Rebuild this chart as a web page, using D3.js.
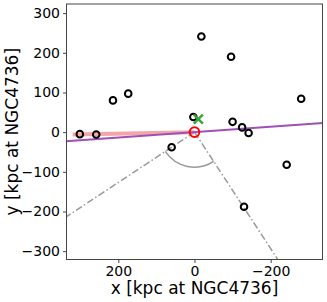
<!DOCTYPE html>
<html>
<head>
<meta charset="utf-8">
<script src="https://cdn.jsdelivr.net/npm/d3@7"></script>
<style>
  body { margin: 0; background: #fff; }
  svg { display: block; font-family: "DejaVu Sans", sans-serif; }
</style>
</head>
<body>
<svg id="chart" width="327" height="302"></svg>
<script>
// satellite positions [kpc]
const satX = [301, 258, 214, 174, 60, 3, -18, -96, -100, -125, -142, -130, -242, -280];
const satY = [-5, -6, 80, 97, -38, 38, 241, 190, 26, 12, -2, -188, -82, 84];
const hostX = 0, hostY = 0;
const crossX = -10, crossY = 33;
// major axis (purple), short pink segment, cone edges
const axisLine = [[340, -23], [-340, 23]];
const pinkLine = [[320, -6], [0, 0]];
const coneEdges = [[336, -213], [-218, -320]];
const xTicks = [200, 0, -200];
const yTicks = [300, 200, 100, 0, -100, -200, -300];

const svg = d3.select('#chart');
const pLeft = 66.5, pRight = 322.5, pTop = 4, pBottom = 259.5;

const x = d3.scaleLinear().domain([336, -336]).range([pLeft, pRight]);
const y = d3.scaleLinear().domain([-321, 323]).range([pBottom, pTop]);

svg.append('defs').append('clipPath').attr('id', 'clip')
    .append('rect').attr('x', pLeft).attr('y', pTop)
    .attr('width', pRight - pLeft).attr('height', pBottom - pTop);

const plot = svg.append('g').attr('clip-path', 'url(#clip)');

// cone edges (dash-dot)
coneEdges.forEach(e => {
    plot.append('line')
        .attr('x1', x(0)).attr('y1', y(0))
        .attr('x2', x(e[0] * 1.5)).attr('y2', y(e[1] * 1.5))
        .attr('stroke', '#999').attr('stroke-width', 1.5)
        .attr('stroke-dasharray', '7,2.5,1.5,2.5');
});

// opening angle arc
let angs = coneEdges.map(e => Math.atan2(y(e[1]) - y(0), x(e[0]) - x(0)) + Math.PI / 2);
let arc = d3.arc().innerRadius(35).outerRadius(35)
    .startAngle(Math.min(...angs)).endAngle(Math.max(...angs));
plot.append('path')
    .attr('transform', `translate(${x(0)},${y(0)})`)
    .attr('d', arc())
    .attr('fill', 'none').attr('stroke', '#999').attr('stroke-width', 1.5);

// pink segment
plot.append('line')
    .attr('x1', x(pinkLine[0][0])).attr('y1', y(pinkLine[0][1]))
    .attr('x2', x(pinkLine[1][0])).attr('y2', y(pinkLine[1][1]))
    .attr('stroke', '#f08080').attr('stroke-opacity', 0.7).attr('stroke-width', 4);

// purple axis line
plot.append('line')
    .attr('x1', x(axisLine[0][0])).attr('y1', y(axisLine[0][1]))
    .attr('x2', x(axisLine[1][0])).attr('y2', y(axisLine[1][1]))
    .attr('stroke', '#a04fb8').attr('stroke-width', 2);

// satellites
plot.selectAll('circle.sat')
    .data(satX.map((d, i) => [d, satY[i]]))
    .enter().append('circle')
    .attr('class', 'sat')
    .attr('cx', d => x(d[0])).attr('cy', d => y(d[1]))
    .attr('r', 3.3)
    .attr('fill', 'none').attr('stroke', '#000').attr('stroke-width', 2);

// host
plot.append('circle')
    .attr('cx', x(hostX)).attr('cy', y(hostY)).attr('r', 4.8)
    .attr('fill', 'none').attr('stroke', '#f00').attr('stroke-width', 2);

// green cross
const cs = 4.5;
plot.append('path')
    .attr('d', `M${x(crossX) - cs},${y(crossY) - cs}L${x(crossX) + cs},${y(crossY) + cs}` +
               `M${x(crossX) - cs},${y(crossY) + cs}L${x(crossX) + cs},${y(crossY) - cs}`)
    .attr('stroke', '#3aa63a').attr('stroke-width', 2.5);

// axes
const xAxis = svg.append('g').attr('transform', `translate(0,${pBottom})`)
    .call(d3.axisBottom(x).tickValues(xTicks).tickSize(3.5).tickPadding(3)
        .tickFormat(d => d < 0 ? '\u2212' + Math.abs(d) : d));
const yAxis = svg.append('g').attr('transform', `translate(${pLeft},0)`)
    .call(d3.axisLeft(y).tickValues(yTicks).tickSize(3.5).tickPadding(3)
        .tickFormat(d => d < 0 ? '\u2212' + Math.abs(d) : d));
[xAxis, yAxis].forEach(a => {
    a.select('.domain').remove();
    a.selectAll('line').attr('stroke', '#444');
    a.selectAll('text').attr('fill', '#000')
        .style('font-family', '"DejaVu Sans", sans-serif').style('font-size', '14px');
});

// frame
svg.append('rect')
    .attr('x', pLeft).attr('y', pTop)
    .attr('width', pRight - pLeft).attr('height', pBottom - pTop)
    .attr('fill', 'none').attr('stroke', '#444').attr('stroke-width', 1);

svg.append('text')
    .attr('x', (pLeft + pRight) / 2).attr('y', 294)
    .attr('text-anchor', 'middle').style('font-size', '17px')
    .text('x [kpc at NGC4736]');

svg.append('text')
    .attr('transform', `translate(18,${(pTop + pBottom) / 2}) rotate(-90)`)
    .attr('text-anchor', 'middle').style('font-size', '17px')
    .text('y [kpc at NGC4736]');
</script>
</body>
</html>
